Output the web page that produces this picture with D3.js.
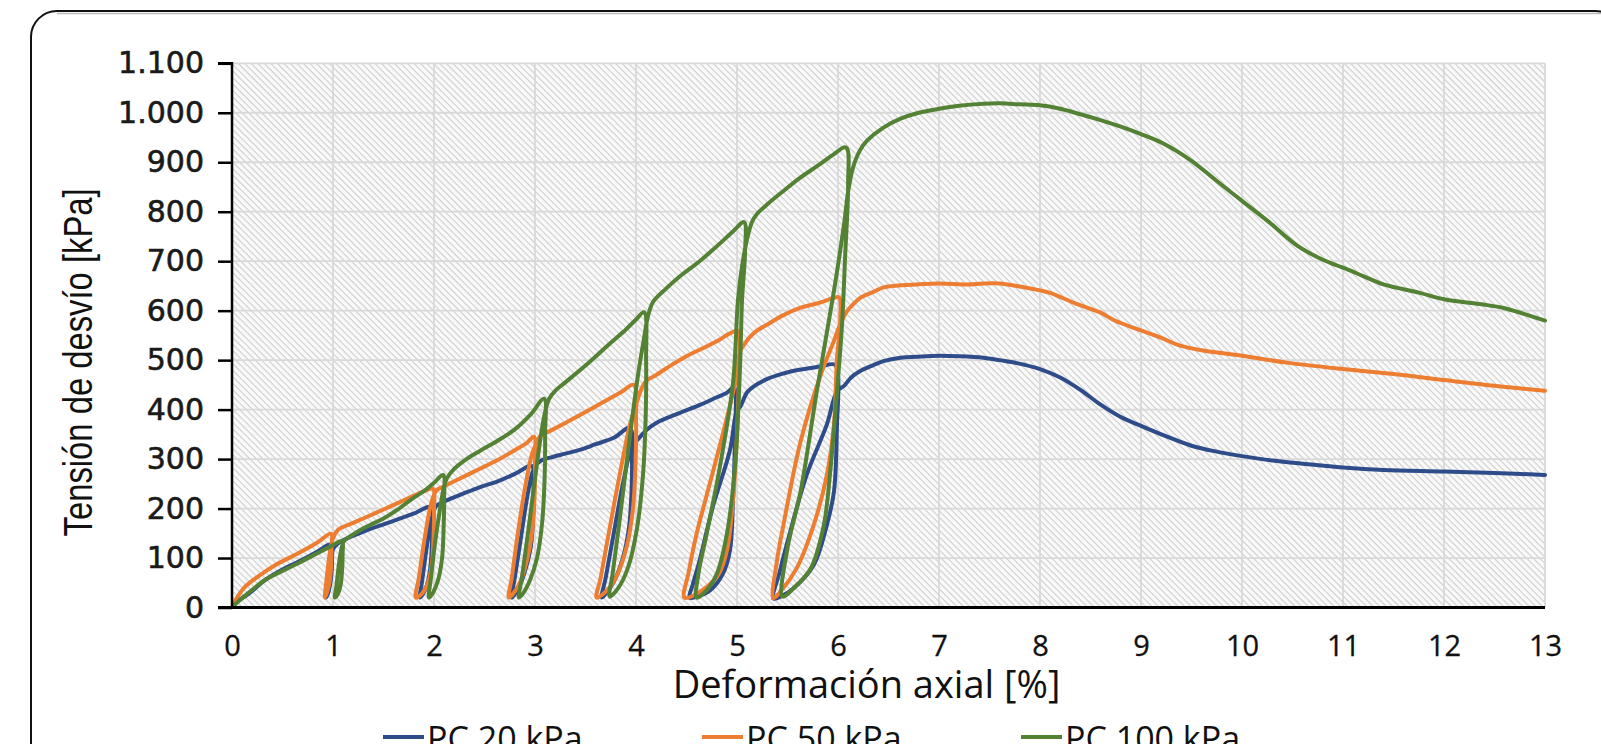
<!DOCTYPE html>
<html>
<head>
<meta charset="utf-8">
<script src="https://cdn.jsdelivr.net/npm/d3@7"></script>
<style>
  html, body { margin: 0; padding: 0; background: #fff; overflow: hidden; }
  svg { display: block; }
</style>
</head>
<body>
<svg id="chart" width="1601" height="744"></svg>
<script>
// series labels and colours
const seriesNames = ["PC 20 kPa", "PC 50 kPa", "PC 100 kPa"];
const seriesColors = ["#2f4c8a", "#ed7d31", "#548235"];

// tick labels
const xTicks = [0, 1, 2, 3, 4, 5, 6, 7, 8, 9, 10, 11, 12, 13];
const yTicks = [0, 100, 200, 300, 400, 500, 600, 700, 800, 900, 1000, 1100];

// [deformación axial %, tensión de desvío kPa]
const pc20 = [
  [0,0],[0.05,12],[0.16,27],[0.33,56],[0.49,76],[0.66,93],[0.82,110],[0.98,127],
  [0.99,100],[0.985,70],[0.97,45],[0.95,28],[0.93,20],
  [0.945,40],[0.97,75],[0.99,105],[1.0,118],[1.04,128],[1.11,137],
  [1.31,154],[1.5,168],[1.64,178],[1.8,190],[1.97,203],
  [1.98,160],[1.975,110],[1.96,75],[1.93,45],[1.89,27],[1.86,20],
  [1.88,50],[1.92,110],[1.96,165],[1.99,190],[2.02,205],[2.1,214],
  [2.3,231],[2.45,243],[2.63,255],[2.8,270],[2.97,286],
  [2.985,240],[2.98,180],[2.96,125],[2.91,80],[2.85,45],[2.8,27],[2.77,20],
  [2.8,60],[2.86,140],[2.92,220],[2.97,270],[3.0,285],[3.06,297],[3.15,303],
  [3.3,311],[3.45,319],[3.6,330],[3.78,343],[3.94,363],
  [3.96,300],[3.955,230],[3.93,160],[3.87,100],[3.78,52],[3.7,28],[3.66,20],
  [3.7,60],[3.78,150],[3.88,260],[3.96,325],[4.02,340],[4.1,358],[4.2,373],
  [4.43,393],[4.64,410],[4.8,425],[4.9,434],[4.97,445],
  [4.98,351],[4.96,216],[4.93,115],[4.86,68],[4.73,34],[4.6,22],[4.53,20],
  [4.56,45],[4.63,95],[4.76,203],[4.93,318],[5.0,399],[5.03,405],[5.1,435],[5.16,446],[5.3,462],[5.46,473],
  [5.6,480],[5.73,484],[5.82,487],[5.97,491],
  [6.0,470],[5.99,370],[5.96,234],[5.89,167],[5.76,86],[5.56,39],[5.45,24],[5.36,18],
  [5.42,70],[5.5,133],[5.69,268],[5.89,370],[5.99,437],[6.06,448],[6.13,465],[6.22,478],[6.35,490],[6.45,498],
  [6.62,505],[6.78,507],[7.0,509],[7.2,508],[7.44,505],[7.6,500],[7.77,494],[8.0,482],
  [8.2,465],[8.4,440],[8.6,410],[8.8,385],[9.0,367],[9.2,350],[9.5,327],[9.75,315],
  [10.0,306],[10.3,297],[10.63,290],[11.0,283],[11.4,278],[12.0,275],[12.5,272],[13.0,268]
];

const pc50 = [
  [0,0],[0.01,5],[0.05,20],[0.13,42],[0.26,63],[0.43,86],[0.66,110],[0.85,132],[0.98,149],
  [0.985,120],[0.98,80],[0.965,50],[0.94,30],[0.92,20],
  [0.93,45],[0.955,90],[0.98,125],[1.0,140],[1.05,157],
  [1.2,171],[1.31,181],[1.5,198],[1.64,211],[1.8,226],[1.9,235],[1.99,240],
  [2.0,200],[1.995,140],[1.98,90],[1.94,50],[1.88,28],[1.82,20],
  [1.85,60],[1.9,130],[1.96,200],[2.0,228],[2.03,238],[2.1,245],
  [2.3,265],[2.45,280],[2.63,298],[2.8,318],[2.92,333],[2.99,345],
  [3.0,290],[2.995,220],[2.97,150],[2.92,95],[2.85,50],[2.78,27],[2.74,20],
  [2.77,60],[2.83,150],[2.9,240],[2.97,310],[3.02,335],[3.05,346],[3.15,357],
  [3.3,373],[3.5,395],[3.7,418],[3.85,435],[3.98,450],
  [4.0,380],[3.995,290],[3.97,200],[3.91,125],[3.8,60],[3.7,32],[3.61,20],
  [3.65,60],[3.73,150],[3.84,270],[3.94,370],[4.0,410],[4.05,440],[4.1,458],[4.2,470],
  [4.35,490],[4.5,508],[4.64,522],[4.8,538],[4.93,554],[5.01,559],
  [5.02,486],[5.0,350],[4.96,216],[4.9,115],[4.82,68],[4.65,34],[4.48,20],
  [4.52,70],[4.6,149],[4.73,250],[4.86,351],[4.98,453],[5.03,518],[5.05,525],[5.12,545],[5.2,560],[5.3,572],
  [5.45,590],[5.63,606],[5.8,615],[5.95,625],[6.01,627],
  [6.02,572],[5.99,505],[5.96,370],[5.89,268],[5.76,167],[5.59,79],[5.43,32],[5.36,19],
  [5.4,100],[5.46,167],[5.63,336],[5.83,471],[5.96,539],[6.02,572],[6.09,599],[6.15,613],[6.22,626],[6.35,638],[6.45,647],
  [6.6,651],[6.78,653],[7.0,655],[7.28,653],[7.44,655],[7.6,655],[7.77,650],[8.0,641],
  [8.1,636],[8.37,613],[8.6,596],[8.74,580],[9.0,560],[9.19,546],[9.35,532],[9.6,520],
  [10.0,509],[10.44,495],[11.0,482],[11.5,472],[12.0,460],[12.5,448],[13.0,438]
];

const pc100 = [
  [0,0],[0.04,8],[0.16,29],[0.33,56],[0.49,73],[0.66,90],[0.82,107],[0.98,124],[1.09,134],
  [1.095,110],[1.09,75],[1.075,45],[1.05,28],[1.02,20],
  [1.035,45],[1.06,90],[1.085,120],[1.11,135],[1.18,145],
  [1.31,161],[1.5,180],[1.64,198],[1.8,222],[1.9,235],[2.0,252],[2.09,268],
  [2.1,220],[2.095,160],[2.08,100],[2.04,55],[1.99,30],[1.95,20],
  [1.97,60],[2.01,130],[2.06,200],[2.1,245],[2.13,262],[2.2,280],
  [2.3,297],[2.45,316],[2.63,337],[2.8,360],[2.96,391],[3.09,422],
  [3.1,350],[3.095,260],[3.07,170],[3.02,100],[2.95,55],[2.88,28],[2.84,20],
  [2.87,60],[2.93,150],[3.0,260],[3.06,350],[3.1,395],[3.14,422],[3.2,438],
  [3.3,455],[3.5,489],[3.75,535],[3.9,562],[4.0,582],[4.08,597],
  [4.1,500],[4.095,380],[4.07,270],[4.01,160],[3.92,80],[3.82,38],[3.74,22],
  [3.77,70],[3.84,180],[3.93,330],[4.02,470],[4.08,545],[4.12,590],[4.17,618],[4.3,645],
  [4.45,672],[4.63,700],[4.8,730],[4.96,760],[5.07,779],
  [5.08,720],[5.05,622],[5.03,486],[4.98,284],[4.9,149],[4.8,68],[4.7,35],[4.6,20],
  [4.62,70],[4.7,149],[4.83,284],[4.96,453],[5.01,622],[5.05,690],[5.1,745],[5.15,780],[5.2,796],
  [5.3,815],[5.46,842],[5.62,868],[5.8,893],[5.95,915],[6.08,930],
  [6.1,856],[6.07,707],[6.04,572],[5.99,437],[5.92,268],[5.86,167],[5.73,79],[5.56,39],[5.45,22],
  [5.5,120],[5.63,235],[5.79,437],[5.96,640],[6.06,775],[6.1,840],[6.15,890],[6.22,925],[6.29,944],
  [6.45,970],[6.62,988],[6.8,1000],[7.0,1008],[7.2,1014],[7.44,1018],[7.6,1019],[7.8,1017],[8.0,1015],
  [8.2,1008],[8.4,997],[8.6,985],[8.8,972],[9.0,957],[9.23,937],[9.5,903],[9.75,862],
  [10.0,822],[10.25,782],[10.55,731],[10.8,703],[11.0,687],[11.2,670],[11.4,653],[11.76,636],
  [12.0,623],[12.37,613],[12.6,605],[12.8,593],[13.0,580]
];

const allSeries = [pc20, pc50, pc100];

let svg = d3.select("#chart");

let minx = 232;
let maxx = 1545;
let miny = 63.3;
let maxy = 607.5;

let xScale = d3.scaleLinear().domain([0, 13]).range([minx, maxx]);
let yScale = d3.scaleLinear().domain([0, 1100]).range([maxy, miny]);

// frame round the figure
svg.append("rect")
  .attr("x", 31).attr("y", 11)
  .attr("width", 1590).attr("height", 800)
  .attr("rx", 26)
  .attr("fill", "none")
  .attr("stroke", "#111")
  .attr("stroke-width", 2);
svg.append("line")
  .attr("x1", 57).attr("x2", 1601).attr("y1", 13.5).attr("y2", 13.5)
  .attr("stroke", "#bbb").attr("stroke-width", 1.5);

// hatch
let defs = svg.append("defs");
let pat = defs.append("pattern")
  .attr("id", "hatch")
  .attr("patternUnits", "userSpaceOnUse")
  .attr("width", 4.6).attr("height", 4.6)
  .attr("patternTransform", "rotate(45)");
pat.append("rect").attr("width", 4.6).attr("height", 4.6).attr("fill", "#fafafa");
pat.append("line")
  .attr("x1", 0).attr("x2", 4.6).attr("y1", 0.6).attr("y2", 0.6)
  .attr("stroke", "#cdcdcd").attr("stroke-width", 1.1);

defs.append("clipPath").attr("id", "plotclip")
  .append("rect")
  .attr("x", minx).attr("y", miny - 4)
  .attr("width", maxx - minx + 4).attr("height", maxy - miny + 4);

svg.append("rect")
  .attr("x", minx).attr("y", miny)
  .attr("width", maxx - minx).attr("height", maxy - miny)
  .attr("fill", "url(#hatch)");

// grid
svg.append("g")
  .selectAll("line.vg")
  .data(xTicks.slice(1))
  .join("line")
  .attr("x1", d => xScale(d)).attr("x2", d => xScale(d))
  .attr("y1", miny).attr("y2", maxy)
  .attr("stroke", "#d9d9d9").attr("stroke-width", 1.8);
svg.append("g")
  .selectAll("line.hg")
  .data(yTicks.slice(1))
  .join("line")
  .attr("x1", minx).attr("x2", maxx)
  .attr("y1", d => yScale(d)).attr("y2", d => yScale(d))
  .attr("stroke", "#d9d9d9").attr("stroke-width", 1.8);

// curves
let line = d3.line()
  .x(d => xScale(d[0]))
  .y(d => yScale(d[1]))
  .curve(d3.curveCatmullRom.alpha(0.5));

let curves = svg.append("g").attr("clip-path", "url(#plotclip)");
allSeries.forEach((s, i) => {
  curves.append("path")
    .attr("fill", "none")
    .attr("stroke", seriesColors[i])
    .attr("stroke-width", 4)
    .attr("stroke-linejoin", "round")
    .attr("stroke-linecap", "round")
    .attr("d", line(s));
});

// axes
let locale = d3.formatLocale({ decimal: ",", thousands: ".", grouping: [3], currency: ["", ""] });
let y_axis = d3.axisLeft(yScale)
  .tickValues(yTicks)
  .tickFormat(locale.format(",d"))
  .tickSize(14)
  .tickPadding(14);
let gy = svg.append("g")
  .attr("transform", `translate(${minx}, 0)`)
  .call(y_axis);
gy.select(".domain").attr("stroke", "#000").attr("stroke-width", 2.5)
  .attr("d", `M-14,${miny}H0V${maxy}`);
gy.selectAll(".tick line").attr("stroke", "#000").attr("stroke-width", 2.5);
gy.selectAll(".tick text")
  .attr("fill", "#1a1a1a")
  .attr("stroke", "#1a1a1a")
  .attr("stroke-width", 0.6)
  .style("font-family", "DejaVu Sans, Verdana, sans-serif")
  .style("font-size", "30px");

let x_axis = d3.axisBottom(xScale)
  .tickValues(xTicks)
  .tickSize(0)
  .tickPadding(28);
let gx = svg.append("g")
  .attr("transform", `translate(0, ${maxy})`)
  .call(x_axis);
gx.select(".domain").attr("stroke", "#000").attr("stroke-width", 3)
  .attr("d", `M${minx - 14},0H${maxx}`);
gx.selectAll(".tick text")
  .attr("fill", "#111")
  .attr("stroke", "#111")
  .attr("stroke-width", 0.3)
  .style("font-family", "Open Sans, sans-serif")
  .style("font-size", "29px");

// axis titles
svg.append("text")
  .attr("x", (minx + maxx) / 2 - 22).attr("y", 698)
  .attr("text-anchor", "middle")
  .style("font-family", "Open Sans, sans-serif")
  .style("font-size", "38px")
  .attr("fill", "#111")
  .text("Deformación axial [%]");

svg.append("g")
  .attr("transform", `translate(92, ${(miny + maxy) / 2 + 27}) rotate(-90) scale(0.8, 1)`)
  .append("text")
  .attr("text-anchor", "middle")
  .style("font-family", "Liberation Sans, Arial, sans-serif")
  .style("font-size", "41px")
  .attr("fill", "#111")
  .text("Tensión de desvío [kPa]");

// legend
let legendX = [383, 702, 1021];
let legend = svg.append("g");
seriesNames.forEach((n, i) => {
  legend.append("line")
    .attr("x1", legendX[i]).attr("x2", legendX[i] + 41)
    .attr("y1", 737).attr("y2", 737)
    .attr("stroke", seriesColors[i]).attr("stroke-width", 4);
  legend.append("text")
    .attr("x", legendX[i] + 44).attr("y", 751)
    .style("font-family", "Open Sans, sans-serif")
    .style("font-size", "34px")
    .attr("fill", "#111")
    .text(n);
});
</script>
</body>
</html>
